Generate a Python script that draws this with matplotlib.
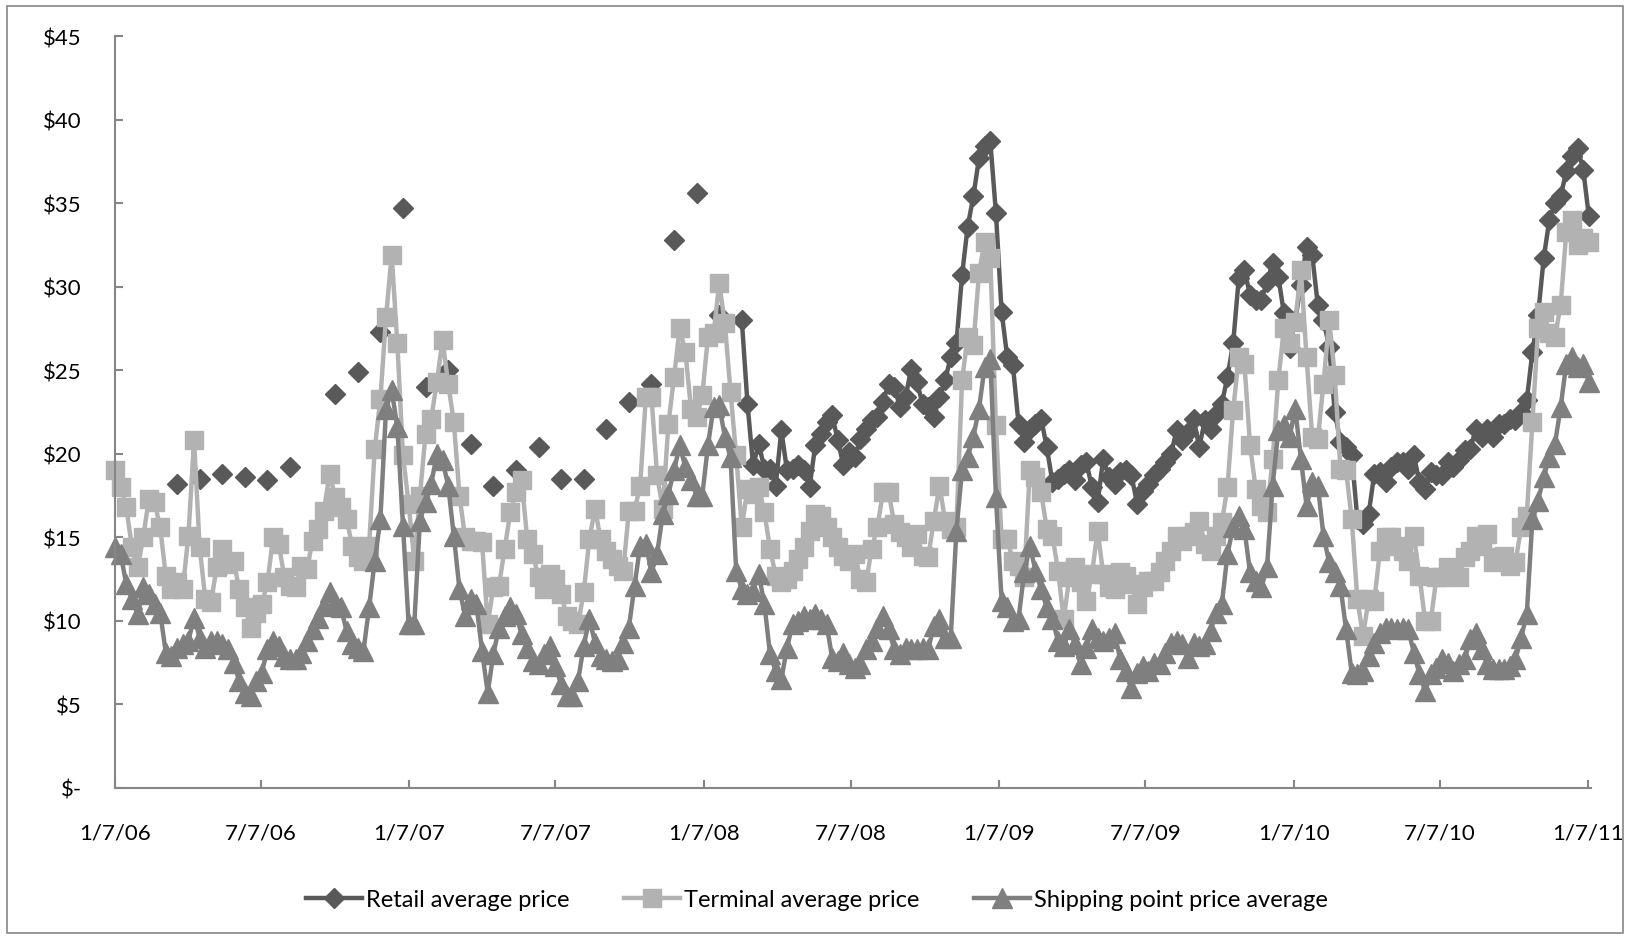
import numpy as np
import pandas as pd
import matplotlib
matplotlib.use('Agg')
import matplotlib.pyplot as plt
from matplotlib.patches import Rectangle

plt.rcParams['font.family'] = ['Lato', 'DejaVu Sans']

# weekly observations, first week 1/7/06
first_week = '2006-01-07'

# retail price was only reported about monthly until early 2008
retail_monthly_weeks = [11, 15, 19, 23, 27, 31, 39, 43, 47, 51, 55, 59, 63, 67,
                        71, 75, 79, 83, 87, 91, 95, 99, 103, 107]
retail_monthly_values = [18.2, 18.5, 18.8, 18.6, 18.4, 19.2, 23.6, 24.9, 27.3, 34.7,
                         24.0, 25.0, 20.6, 18.1, 19.0, 20.4, 18.5, 18.5, 21.5, 23.1,
                         24.2, 32.8, 35.6, 28.3]
retail_weekly_start = 111
retail_weekly = [
    28.0, 23.0, 19.3, 20.6, 19.1, 19.1, 18.1, 21.4, 19.0,
    19.1, 19.3, 19.0, 18.0, 20.5, 21.2, 21.9, 22.3, 20.8, 19.3,
    20.1, 19.8, 20.9, 21.5, 22.0, 22.2, 23.1, 24.2, 24.0, 22.8,
    23.4, 25.1, 24.3, 23.0, 22.8, 22.2, 23.4, 24.4, 25.8, 26.6,
    30.7, 33.6, 35.4, 37.7, 38.4, 38.7, 34.4, 28.5, 25.8, 25.3,
    21.8, 20.7, 21.5, 21.8, 22.1, 20.4, 18.3, 18.5, 18.8, 19.0,
    18.4, 19.3, 19.5, 18.0, 17.1, 19.7, 18.6, 18.2, 18.9, 19.0,
    18.7, 17.0, 17.8, 18.2, 18.7, 19.1, 19.5, 20.0, 21.4, 20.8,
    21.3, 22.1, 20.4, 22.0, 21.5, 22.4, 23.0, 24.6, 26.6, 30.5,
    31.0, 29.5, 29.2, 29.2, 30.3, 31.4, 30.6, 28.4, 26.3, 28.0,
    30.1, 32.4, 31.9, 28.9, 28.0, 26.4, 22.5, 20.7, 20.4, 19.9,
    16.1, 15.8, 16.4, 18.8, 18.9, 18.3, 19.2, 19.5, 19.5, 19.1,
    19.9, 18.3, 17.9, 18.9, 18.7, 18.7, 19.5, 19.2, 19.6, 20.2,
    20.3, 21.5, 21.0, 21.5, 21.0, 21.8, 21.8, 22.1, 22.0, 22.5,
    23.2, 26.1, 28.3, 31.7, 34.0, 35.0, 35.4, 36.9, 37.8, 38.3,
    37.0, 34.2,
]

terminal = [
    19.0, 18.0, 16.8, 14.4, 13.2, 15.0, 17.3, 17.1, 15.6, 12.7,
    11.9, 12.3, 11.9, 15.1, 20.8, 14.4, 11.3, 11.1, 13.2, 14.3,
    13.4, 13.6, 11.9, 10.8, 9.6, 10.5, 11.0, 12.3, 15.0, 14.6,
    12.6, 12.1, 12.0, 13.3, 13.1, 14.8, 15.5, 16.6, 18.8, 17.4,
    16.8, 16.1, 14.5, 13.8, 13.6, 14.5, 20.3, 23.3, 28.2, 31.9,
    26.6, 19.9, 17.0, 13.6, 17.5, 21.2, 22.1, 24.3, 26.8, 24.2,
    21.9, 17.5, 15.0, 14.8, 14.8, 14.7, 9.8, 12.0, 12.1, 14.3,
    16.5, 17.7, 18.4, 14.9, 14.0, 12.6, 11.9, 12.8, 12.5, 11.6,
    10.3, 10.0, 9.8, 11.7, 14.9, 16.7, 14.9, 14.2, 13.7, 13.3,
    13.0, 16.6, 16.6, 18.1, 23.4, 23.4, 18.7, 16.7, 21.8, 24.6,
    27.5, 26.1, 22.7, 22.2, 23.5, 27.0, 27.2, 30.2, 27.8, 23.7,
    19.9, 15.6, 17.9, 17.6, 18.0, 16.5, 14.3, 12.7, 12.3, 12.5,
    13.0, 13.7, 14.4, 15.4, 16.4, 16.3, 15.6, 15.0, 14.4, 13.9,
    13.6, 14.0, 12.5, 12.3, 14.3, 15.6, 17.7, 17.7, 15.8, 15.3,
    15.0, 14.4, 15.2, 13.9, 13.8, 16.0, 18.1, 16.0, 15.5, 15.6,
    24.4, 27.0, 26.5, 30.8, 32.7, 31.7, 21.7, 14.9, 14.9, 13.6,
    13.3, 12.6, 19.0, 18.6, 17.7, 15.5, 15.1, 13.0, 10.1, 12.6,
    13.2, 12.3, 11.2, 12.8, 15.4, 12.8, 12.0, 11.9, 12.9, 12.7,
    12.2, 11.0, 12.0, 12.4, 12.4, 12.9, 13.6, 14.2, 15.1, 14.8,
    15.1, 15.3, 16.0, 14.6, 14.2, 15.1, 15.9, 18.0, 22.6, 25.8,
    25.4, 20.5, 17.9, 16.9, 16.5, 19.7, 24.4, 27.5, 26.6, 27.9,
    31.0, 25.8, 21.0, 20.9, 24.2, 28.0, 24.7, 19.1, 19.0, 16.1,
    11.3, 9.1, 11.3, 11.2, 14.2, 15.0, 15.0, 14.5, 14.2, 13.6,
    15.1, 12.7, 10.0, 10.0, 12.6, 12.6, 13.2, 12.9, 12.6, 13.8,
    14.2, 15.1, 14.5, 15.2, 13.5, 13.8, 13.9, 13.3, 13.5, 15.6,
    16.3, 21.9, 27.5, 28.5, 27.2, 27.0, 28.9, 33.3, 34.0, 32.5,
    32.9, 32.7,
]

shipping = [
    14.4, 14.0, 12.2, 11.3, 10.4, 12.0, 11.6, 11.0, 10.5, 8.1,
    7.9, 8.4, 8.6, 8.8, 10.2, 9.0, 8.4, 8.8, 8.8, 8.6,
    8.3, 7.5, 6.4, 5.7, 5.5, 6.4, 6.9, 8.3, 8.8, 8.5,
    7.9, 7.7, 7.7, 8.1, 8.8, 9.5, 10.2, 10.9, 11.7, 11.1,
    10.8, 9.4, 8.6, 8.4, 8.2, 10.8, 13.6, 16.1, 22.7, 23.8,
    21.6, 15.7, 9.8, 9.8, 16.0, 17.1, 18.2, 20.0, 19.6, 18.1,
    15.1, 11.9, 10.3, 11.3, 11.0, 8.2, 5.7, 8.0, 9.6, 10.3,
    10.8, 10.4, 9.2, 8.4, 7.6, 7.4, 8.0, 8.5, 7.3, 6.2,
    5.5, 5.5, 6.4, 8.5, 10.1, 8.7, 7.9, 7.7, 7.6, 7.7,
    8.7, 9.6, 12.1, 14.5, 14.6, 12.9, 14.0, 16.4, 17.6, 19.0,
    20.5, 19.2, 18.4, 17.5, 17.5, 20.5, 22.8, 22.9, 21.0, 19.8,
    13.0, 11.9, 11.6, 11.8, 12.8, 11.0, 8.0, 7.0, 6.5, 8.4,
    9.8, 10.0, 10.3, 10.1, 10.4, 10.1, 9.8, 7.8, 7.6, 8.1,
    7.4, 7.2, 7.4, 8.3, 8.8, 9.6, 10.3, 9.5, 8.3, 8.0,
    8.4, 8.3, 8.3, 8.4, 8.3, 9.7, 10.1, 9.0, 9.0, 15.4,
    19.0, 19.8, 21.0, 22.7, 25.2, 25.7, 17.4, 11.2, 10.8, 10.0,
    10.1, 12.9, 14.5, 13.0, 11.9, 10.8, 10.1, 8.8, 8.5, 9.5,
    8.6, 7.4, 8.4, 9.5, 9.0, 8.8, 9.0, 9.3, 7.7, 7.0,
    6.0, 6.9, 7.3, 7.0, 7.5, 7.4, 8.1, 8.7, 8.8, 8.6,
    7.8, 8.7, 8.5, 8.6, 9.4, 10.5, 11.0, 14.0, 15.6, 16.3,
    15.5, 12.9, 12.4, 12.0, 13.2, 18.1, 21.4, 21.7, 21.0, 22.7,
    19.7, 16.9, 18.3, 18.1, 15.1, 13.5, 12.9, 12.1, 9.5, 6.9,
    6.8, 7.0, 7.9, 8.7, 9.3, 9.6, 9.6, 9.5, 9.6, 9.5,
    8.1, 6.8, 5.8, 6.8, 7.2, 7.7, 7.5, 7.0, 7.4, 7.7,
    8.9, 9.3, 8.3, 7.4, 7.1, 7.1, 7.1, 7.3, 7.7, 9.0,
    10.4, 16.1, 17.2, 18.6, 19.8, 20.6, 22.8, 25.4, 25.8, 25.2,
    25.4, 24.3,
]

series_names = ['Retail average price', 'Terminal average price',
                'Shipping point price average']
tick_dates = ['2006-01-07', '2006-07-07', '2007-01-07', '2007-07-07', '2008-01-07',
              '2008-07-07', '2009-01-07', '2009-07-07', '2010-01-07', '2010-07-07',
              '2011-01-07']
tick_labels = ['1/7/06', '7/7/06', '1/7/07', '7/7/07', '1/7/08', '7/7/08',
               '1/7/09', '7/7/09', '1/7/10', '7/7/10', '1/7/11']
y_ticks = [0, 5, 10, 15, 20, 25, 30, 35, 40, 45]
y_labels = ['$-', '$5', '$10', '$15', '$20', '$25', '$30', '$35', '$40', '$45']

n_weeks = len(terminal)
dates = pd.date_range(first_week, periods=n_weeks, freq='7D')

retail = np.full(n_weeks, np.nan)
retail[retail_monthly_weeks] = retail_monthly_values
retail[retail_weekly_start:] = retail_weekly

fig = plt.figure(figsize=(16.31, 9.37), dpi=100)
ax = fig.add_axes([0.0705, 0.158, 0.905, 0.8025])

ax.plot(dates, retail, color='#595959', lw=3.2, marker='D', ms=10,
        label=series_names[0], clip_on=False)
ax.plot(dates, terminal, color='#b2b2b2', lw=3.2, marker='s', ms=13,
        label=series_names[1], clip_on=False)
ax.plot(dates, shipping, color='#7f7f7f', lw=3.2, marker='^', ms=14,
        label=series_names[2], clip_on=False)

ax.set_xlim(pd.Timestamp('2006-01-07'), pd.Timestamp('2011-01-10 16:00'))
ax.set_ylim(0, 45)
ax.set_xticks(pd.to_datetime(tick_dates))
ax.set_xticklabels(tick_labels)
ax.set_yticks(y_ticks)
ax.set_yticklabels(y_labels)

for side in ['top', 'right']:
    ax.spines[side].set_visible(False)
for side in ['left', 'bottom']:
    ax.spines[side].set_color('#868686')
    ax.spines[side].set_linewidth(1.5)
ax.tick_params(axis='both', direction='in', length=6, width=1.5, color='#868686',
               labelsize=16, labelcolor='black')
ax.tick_params(axis='y', pad=24)
ax.tick_params(axis='x', pad=25)

# chart area border
border = Rectangle((0.0043, 0.0032), 0.9908, 0.9893, transform=fig.transFigure,
                   fill=False, edgecolor='#868686', lw=1.2)
fig.patches.append(border)
for t in ax.xaxis.get_major_ticks():
    t.label1.set_clip_path(border)

fig.legend(loc='center', bbox_to_anchor=(0.501, 0.0385), ncol=3, frameon=False,
           fontsize=17, handlelength=2.35, handletextpad=0.2, columnspacing=2.3)

fig.savefig('out.png', dpi=100)
